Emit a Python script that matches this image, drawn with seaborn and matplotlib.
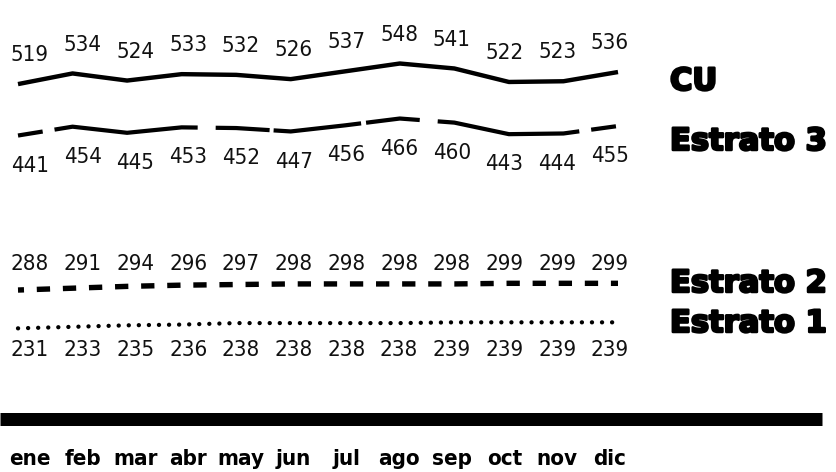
import numpy as np
import pandas as pd
import matplotlib
matplotlib.use("Agg")
import matplotlib.pyplot as plt
import matplotlib.transforms as mtransforms
import matplotlib.patheffects as pe
from matplotlib import font_manager
import seaborn as sns

# --- data -----------------------------------------------------------------
months = ["ene", "feb", "mar", "abr", "may", "jun",
          "jul", "ago", "sep", "oct", "nov", "dic"]
cu = [519, 534, 524, 533, 532, 526, 537, 548, 541, 522, 523, 536]
estrato3 = [441, 454, 445, 453, 452, 447, 456, 466, 460, 443, 444, 455]
estrato2 = [288, 291, 294, 296, 297, 298, 298, 298, 298, 299, 299, 299]
estrato1 = [231, 233, 235, 236, 238, 238, 238, 238, 239, 239, 239, 239]
series_names = ["CU", "Estrato 3", "Estrato 2", "Estrato 1"]
series_values = [cu, estrato3, estrato2, estrato1]

# --- layout (pixels) --------------------------------------------------------
W, H, DPI = 837, 472, 100
PT = 72.0 / DPI                     # points per pixel
PLOT_RIGHT = 822                    # right end of the drawing area / base bar
LINE_X0, LINE_STEP = 18, 600 / 11   # month positions of the lines
LABEL_X0, LABEL_STEP = 30, 580 / 11 # month positions of the text labels
BAR_Y, BAR_H = 418.5, 13            # thick base bar

band_center = [75.4, 128.5, 285.0, 323.9]   # pixel row of each series mean
px_per_unit = [0.71, 0.68, 0.61, 0.75]
label_follow = [True, True, False, False]   # labels track the line or sit in a row
label_dy_px = [22.9, -36.1, 15.4, -32.1]    # baseline offset of value labels
legend_baseline = [90, 150, 292, 332]
legend_x = 670


def px(v):
    return v * PT


dash_e3 = [25, 12, 144, 18, 54, 4, 88, 5, 54, 18, 143, 12, 25, 400]
styles = [
    dict(linewidth=px(4.4), linestyle="-", solid_capstyle="butt",
         solid_joinstyle="round"),
    dict(linewidth=px(4.2), linestyle=(0, [px(v) for v in dash_e3]),
         dash_capstyle="butt", dash_joinstyle="round"),
    dict(linewidth=px(5.4), linestyle=(px(7.3), [px(13.3), px(12.8)]),
         dash_capstyle="butt"),
    dict(linewidth=px(4.3), linestyle=(0, [px(0.1), px(9.97)]),
         dash_capstyle="round"),
]

# --- fonts ------------------------------------------------------------------
sns.set_theme(style="white")
entries = font_manager.fontManager.ttflist
names = {f.name for f in entries}
has_condensed = any(f.name == "DejaVu Sans" and str(f.stretch) in ("condensed", "semi-condensed")
                    for f in entries)
if "Liberation Sans Narrow" in names:
    label_family, label_stretch = "Liberation Sans Narrow", "normal"
else:
    label_family = "DejaVu Sans"
    label_stretch = "condensed" if has_condensed else "normal"
plt.rcParams["font.family"] = [label_family, "DejaVu Sans"]
plt.rcParams["lines.scale_dashes"] = False

fig = plt.figure(figsize=(W / DPI, H / DPI), dpi=DPI)
fig.patch.set_facecolor("white")

# base axis: holds the month labels and the thick bar
base = fig.add_axes([0, (H - BAR_Y) / H, PLOT_RIGHT / W, BAR_Y / H])
base.set_facecolor("none")
base.set_xlim(-LABEL_X0 / LABEL_STEP, (PLOT_RIGHT - LABEL_X0) / LABEL_STEP)
base.set_ylim(0, 1)
for side in ["top", "left", "right"]:
    base.spines[side].set_visible(False)
base.spines["bottom"].set_linewidth(px(BAR_H))
base.spines["bottom"].set_color("black")
base.spines["bottom"].set_capstyle("butt")
base.set_yticks([])
base.set_xticks(range(len(months)))
base.set_xticklabels(months, fontsize=16, fontweight="bold",
                     fontstretch=label_stretch,
                     family=[label_family, "DejaVu Sans"])
base.tick_params(axis="x", length=0, pad=22.0, colors="black")
base.grid(False)

# one transparent axes per series, sharing the pixel frame
for i, (name, vals) in enumerate(zip(series_names, series_values)):
    ax = fig.add_axes([0, 0, PLOT_RIGHT / W, 1])
    ax.set_facecolor("none")
    mean_v = float(np.mean(vals))
    c, k = band_center[i], px_per_unit[i]
    ax.set_ylim(mean_v - (H - c) / k, mean_v + c / k)
    ax.set_xlim(-LINE_X0 / LINE_STEP, (PLOT_RIGHT - LINE_X0) / LINE_STEP)
    df = pd.DataFrame({"mes": np.arange(len(months)), "valor": vals})
    sns.lineplot(data=df, x="mes", y="valor", ax=ax, color="black",
                 **styles[i])
    ax.set_axis_off()

    trans = mtransforms.blended_transform_factory(base.transData, ax.transData)
    trans = trans + mtransforms.ScaledTranslation(
        0, label_dy_px[i] / DPI, fig.dpi_scale_trans)
    for j, v in enumerate(vals):
        y = v if label_follow[i] else mean_v
        ax.text(j, y, str(v), transform=trans, ha="center", va="baseline",
                fontsize=16, fontstretch=label_stretch, fontweight="light",
                color="#111111", family=[label_family, "DejaVu Sans"])

    fig.text(legend_x / W, (H - legend_baseline[i]) / H, name,
             ha="left", va="baseline", fontsize=22, fontweight="bold",
             family=["DejaVu Sans"], color="black",
             path_effects=[pe.withStroke(linewidth=1.8, foreground="black")])

fig.savefig("out.png", dpi=DPI, facecolor="white")
